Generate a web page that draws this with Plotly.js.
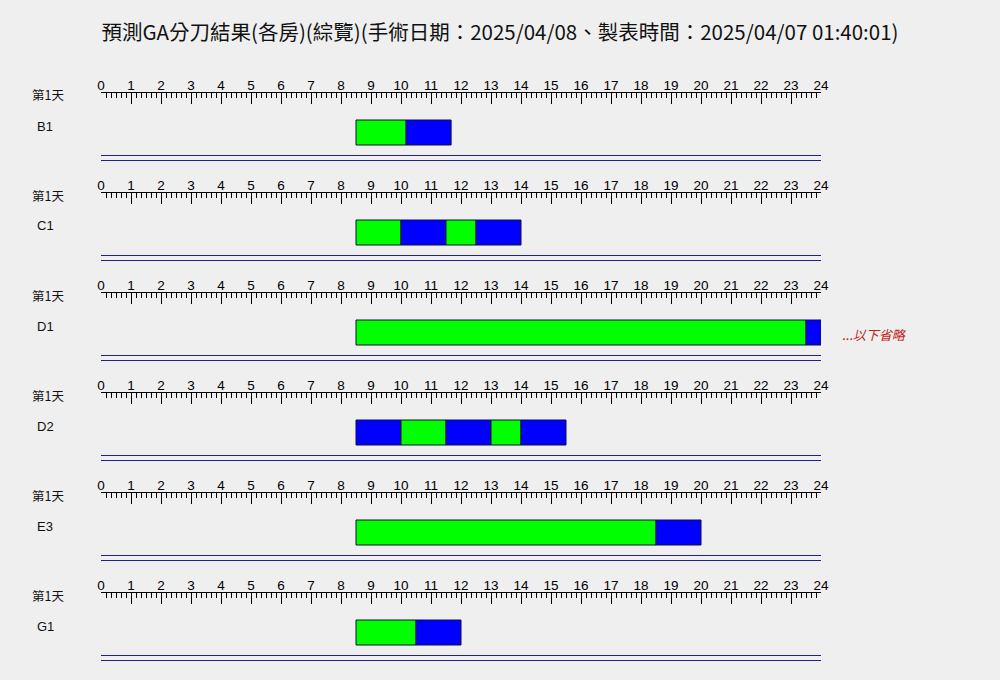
<!DOCTYPE html>
<html>
<head>
<meta charset="utf-8">
<script src="https://cdn.plot.ly/plotly-3.0.1.min.js"></script>
<style>
html,body{margin:0;padding:0;background:#EFEFEF;}
#chart{width:1000px;height:680px;}
</style>
</head>
<body>
<div id="chart"></div>
<script>
// ---- data ----
const titleText = '預測GA分刀結果(各房)(綜覽)(手術日期：2025/04/08、製表時間：2025/04/07 01:40:01)';
const dayLabel = '第1天';
const rooms = ['B1', 'C1', 'D1', 'D2', 'E3', 'G1'];
const segRoom  = ['B1','B1','C1','C1','C1','C1','D1','D1','D2','D2','D2','D2','D2','E3','E3','G1','G1'];
const segStart = [8.5, 10.17, 8.5, 10, 11.5, 12.5, 8.5, 23.5, 8.5, 10, 11.5, 13, 14, 8.5, 18.5, 8.5, 10.5];
const segEnd   = [10.17, 11.67, 10, 11.5, 12.5, 14, 23.5, 24, 10, 11.5, 13, 14, 15.5, 18.5, 20, 10.5, 12];
const segPhase = ['A','B','A','B','A','B','A','B','B','A','B','A','B','A','B','A','B'];
const hourTicks = [0,1,2,3,4,5,6,7,8,9,10,11,12,13,14,15,16,17,18,19,20,21,22,23,24];
const hourLabels = ['0','1','2','3','4','5','6','7','8','9','10','11','12','13','14','15','16','17','18','19','20','21','22','23','24'];
const omittedNote = '...以下省略';
const omittedAfterRoom = 'D1';

// ---- layout / style ----
const W = 1000, H = 680;
const ML = 101, MR = 179;
const panelTop0 = 93, panelStep = 100, panelH = 72;
const barCenter = 39.5, barThick = 25;
const dbl1 = 62.5, dbl2 = 67.5;
const phaseColor = {A: '#00FF00', B: '#0000FF'};
const cjk = '"Noto Sans CJK TC", "Noto Sans CJK SC", sans-serif';
const numFont = '"Liberation Sans", Arial, sans-serif';

const data = [];
const layout = {
  width: W, height: H,
  margin: {l: ML, r: MR, t: 0, b: 0, pad: 0},
  paper_bgcolor: '#EFEFEF',
  plot_bgcolor: 'rgba(0,0,0,0)',
  showlegend: false,
  title: {
    text: titleText,
    font: {family: cjk, size: 20.5, color: '#111'},
    x: 0.5, xref: 'container', xanchor: 'center',
    y: 1 - 33 / H, yref: 'container', yanchor: 'middle'
  },
  shapes: [],
  annotations: []
};

const toPaperX = px => (px - ML) / (W - ML - MR);
const toPaperY = py => 1 - py / H;

rooms.forEach((room, k) => {
  const suf = k === 0 ? '' : String(k + 1);
  const xName = 'x' + suf, yName = 'y' + suf;
  const top = panelTop0 + k * panelStep;
  const bottom = top + panelH;

  const idx = segRoom.map((r, i) => r === room ? i : -1).filter(i => i >= 0);
  data.push({
    type: 'bar',
    orientation: 'h',
    xaxis: xName, yaxis: yName,
    y: idx.map(() => barCenter),
    base: idx.map(i => segStart[i]),
    x: idx.map(i => segEnd[i] - segStart[i]),
    width: idx.map(() => barThick),
    marker: {
      color: idx.map(i => phaseColor[segPhase[i]]),
      line: {color: '#10103a', width: 1}
    },
    hoverinfo: 'skip'
  });

  layout['xaxis' + suf] = {
    domain: [0, 1],
    range: [0, 24],
    anchor: yName,
    side: 'top',
    showline: true, linecolor: '#000', linewidth: 1,
    ticks: 'inside', ticklen: 11, tickwidth: 1, tickcolor: '#000',
    tickmode: 'array', tickvals: hourTicks, ticktext: hourLabels,
    tickfont: {family: numFont, size: 13.5, color: '#000'},
    ticklabelstandoff: -3,
    minor: {tickmode: 'linear', tick0: 0, dtick: 1 / 6, ticks: 'inside', ticklen: 5, tickwidth: 1, tickcolor: '#000', showgrid: false},
    showgrid: false, zeroline: false, fixedrange: true
  };
  layout['yaxis' + suf] = {
    domain: [toPaperY(bottom), toPaperY(top)],
    range: [panelH, 0],
    anchor: xName,
    visible: false, showgrid: false, zeroline: false, fixedrange: true
  };

  [dbl1, dbl2].forEach(yv => {
    layout.shapes.push({
      type: 'line', xref: xName, yref: yName,
      x0: 0, x1: 24, y0: yv, y1: yv,
      line: {color: '#20208c', width: 1}
    });
  });

  layout.annotations.push({
    text: dayLabel, xref: 'paper', yref: 'paper',
    x: toPaperX(30), y: toPaperY(top + 2), xanchor: 'left', yanchor: 'middle',
    showarrow: false, font: {family: cjk, size: 12.5, color: '#111'}
  });
  layout.annotations.push({
    text: room, xref: 'paper', yref: 'paper',
    x: toPaperX(35), y: toPaperY(top + 33), xanchor: 'left', yanchor: 'middle',
    showarrow: false, font: {family: numFont, size: 13, color: '#111'}
  });
  if (room === omittedAfterRoom) {
    layout.annotations.push({
      text: '<i>' + omittedNote + '</i>', xref: 'paper', yref: 'paper',
      x: toPaperX(840), y: toPaperY(top + 41), xanchor: 'left', yanchor: 'middle',
      showarrow: false, font: {family: cjk, size: 13, color: '#c42020'}
    });
  }
});

Plotly.newPlot('chart', data, layout, {displayModeBar: false, staticPlot: true});
</script>
</body>
</html>
